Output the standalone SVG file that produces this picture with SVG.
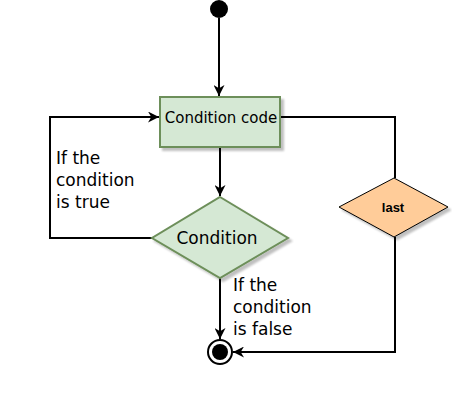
<svg xmlns="http://www.w3.org/2000/svg" width="452" height="407" viewBox="0 0 452 407">
<style>
.ln{fill:none;stroke:#000;stroke-width:2}
.lbl{font-family:"DejaVu Sans",sans-serif;font-size:17px;fill:#000}
.grn{fill:#d5e8d4;stroke:#6d8f5a;stroke-width:2}
</style>
<defs>
<marker id="ar" viewBox="0 0 10 10" refX="10" refY="5" markerWidth="11" markerHeight="11" markerUnits="userSpaceOnUse" orient="auto">
<path d="M0,0 L10,5 L0,10 L3,5 Z" fill="#000"/>
</marker>
<filter id="sh" x="-10%" y="-10%" width="130%" height="130%">
<feGaussianBlur in="SourceAlpha" stdDeviation="1"/>
<feOffset dx="3" dy="3"/>
<feComponentTransfer><feFuncA type="linear" slope="0.25"/></feComponentTransfer>
<feMerge><feMergeNode/><feMergeNode in="SourceGraphic"/></feMerge>
</filter>
</defs>
<rect width="452" height="407" fill="#fff"/>
<g id="connectors">
<path class="ln" d="M219,18 L219,96" marker-end="url(#ar)"/>
<path class="ln" d="M220,147 L220,196" marker-end="url(#ar)"/>
<path class="ln" d="M152,238 L50,238 L50,117 L159,117" marker-end="url(#ar)"/>
<path class="ln" d="M220,278 L220,339" marker-end="url(#ar)"/>
<path class="ln" d="M280,117 L395,117 L395,178"/>
<path class="ln" d="M395,237 L395,352 L233,352" marker-end="url(#ar)"/>
</g>
<g id="start"><circle cx="219" cy="9" r="9" fill="#000"/></g>
<g id="code">
<rect class="grn" x="160" y="97" width="120" height="50" filter="url(#sh)"/>
<text x="221" y="123" text-anchor="middle" style="font-family:'DejaVu Sans',sans-serif;font-size:15px">Condition code</text>
</g>
<g id="cond">
<polygon class="grn" points="220,197 288,238 220,278 152,238" filter="url(#sh)"/>
<text class="lbl" x="217" y="244" text-anchor="middle">Condition</text>
</g>
<g id="last">
<polygon points="394,178 448,207 394,237 339,207" fill="#ffcc99" stroke="#000" stroke-width="1" filter="url(#sh)"/>
<text x="393" y="212" text-anchor="middle" style="font-family:'Liberation Sans',sans-serif;font-size:13px;font-weight:bold">last</text>
</g>
<g id="end">
<circle cx="220" cy="352" r="12" fill="#fff" stroke="#000" stroke-width="2"/>
<circle cx="220" cy="352" r="8" fill="#000"/>
</g>
<g id="labels">
<text class="lbl" x="56" y="164">If the</text>
<text class="lbl" x="56" y="186">condition</text>
<text class="lbl" x="56" y="208">is true</text>
<text class="lbl" x="233" y="291">If the</text>
<text class="lbl" x="233" y="313">condition</text>
<text class="lbl" x="233" y="335">is false</text>
</g>
</svg>
